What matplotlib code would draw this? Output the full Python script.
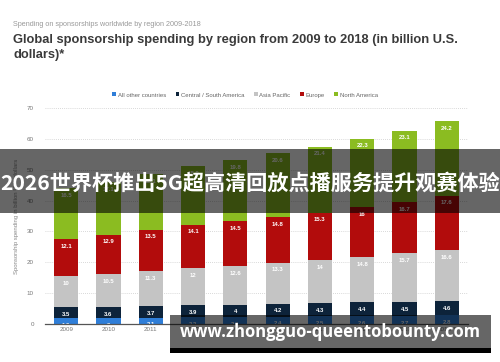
import matplotlib
matplotlib.use("Agg")
import matplotlib.pyplot as plt
from matplotlib.patches import Rectangle
import numpy as np

years = ["2009", "2010", "2011", "2012", "2013", "2014", "2015", "2016", "2017", "2018**"]
series_names = ["All other countries", "Central / South America", "Asia Pacific", "Europe", "North America"]
other = [1.9, 2, 2.1, 2.2, 2.3, 2.4, 2.5, 2.6, 2.7, 2.8]
latam = [3.5, 3.6, 3.7, 3.9, 4, 4.2, 4.3, 4.4, 4.5, 4.6]
apac = [10, 10.5, 11.3, 12, 12.6, 13.3, 14, 14.8, 15.7, 16.6]
europe = [12.1, 12.9, 13.5, 14.1, 14.5, 14.8, 15.3, 16, 16.7, 17.6]
namerica = [16.5, 17.1, 18.1, 18.9, 19.8, 20.6, 21.4, 22.3, 23.1, 24.2]
colors = ["#2f7ed8", "#0d233a", "#c4c4c4", "#b20c0c", "#8bbc21"]

plt.rcParams['font.family'] = ['Liberation Sans', 'DejaVu Sans']

fig = plt.figure(figsize=(5, 3.62), dpi=100)
ax = fig.add_axes([0.09, 0.105, 0.846, 0.5967])

x = np.arange(len(years))
bottom = np.zeros(len(years))
handles = []
for name, vals, col in zip(series_names, [other, latam, apac, europe, namerica], colors):
    vals = np.array(vals, dtype=float)
    h = ax.bar(x, vals, 0.57, bottom=bottom, color=col, label=name, zorder=2)
    handles.append(h)
    for xi, b, v in zip(x, bottom, vals):
        txt = ("%g" % v)
        ax.annotate(txt, (xi, b + v), xytext=(0, -3.5), textcoords="offset points",
                    ha="center", va="top", fontsize=4.3, color="white",
                    fontweight="bold", zorder=3)
    bottom += vals

ax.set_xlim(-0.5, len(years) - 0.5)
ax.set_ylim(0, 70)
ax.set_yticks(range(0, 71, 10))
ax.set_xticks(x)
ax.set_xticklabels(years)
ax.tick_params(axis="both", length=0, labelsize=4.5, labelcolor="#777777")
ax.tick_params(axis="y", pad=8)
ax.tick_params(axis="x", pad=2)
ax.yaxis.grid(True, linestyle=(0, (1, 1.5)), color="#cccccc", linewidth=0.6, zorder=0)
for s in ["top", "right", "left"]:
    ax.spines[s].set_visible(False)
ax.spines["bottom"].set_color("#555555")
ax.spines["bottom"].set_linewidth(0.9)
ax.spines["bottom"].set_zorder(4)
ax.set_ylabel("Sponsorship spending in billion U.S. dollars", fontsize=4.3, color="#888888", labelpad=6)

fig.legend(handles=handles, loc="center", bbox_to_anchor=(0.49, 1 - 95 / 362), ncol=5,
           frameon=False, fontsize=4.3, handlelength=0.6, handleheight=0.6,
           handletextpad=0.3, columnspacing=1.6, labelcolor="#666666")

fig.text(0.026, 1 - 24 / 362, "Spending on sponsorships worldwide by region 2009-2018",
         fontsize=5.2, color="#999999", va="center")
fig.text(0.026, 1 - 34 / 362,
         "Global sponsorship spending by region from 2009 to 2018 (in billion U.S.\ndollars)*",
         fontsize=9.3, fontweight="bold", color="#3a3a3a", va="top", linespacing=1.3)

# overlay banner
fig.add_artist(Rectangle((0, 1 - 213 / 362), 1, 64 / 362, transform=fig.transFigure,
                         facecolor="black", alpha=0.6, zorder=10, edgecolor="none"))
fig.text(0.5, 1 - 183 / 362, "2026世界杯推出5G超高清回放点播服务提升观赛体验",
         fontsize=15.2, fontweight="bold", color="white", ha="center", va="center",
         family=["Noto Sans CJK SC", "DejaVu Sans"], zorder=11)

# watermark
fig.add_artist(Rectangle((170 / 500, 1 - 348 / 362), 321 / 500, 33 / 362, transform=fig.transFigure,
                         facecolor="black", alpha=0.6, zorder=10, edgecolor="none"))
fig.add_artist(Rectangle((170 / 500, 1 - 353 / 362), 321 / 500, 5 / 362, transform=fig.transFigure,
                         facecolor="black", zorder=10, edgecolor="none"))
fig.text(330 / 500, 1 - 332 / 362, "www.zhongguo-queentobounty.com",
         fontsize=12.0, fontweight="bold", color="white", ha="center", va="center",
         family=["Open Sans", "DejaVu Sans"], zorder=11)

fig.savefig("out.png", dpi=100)
